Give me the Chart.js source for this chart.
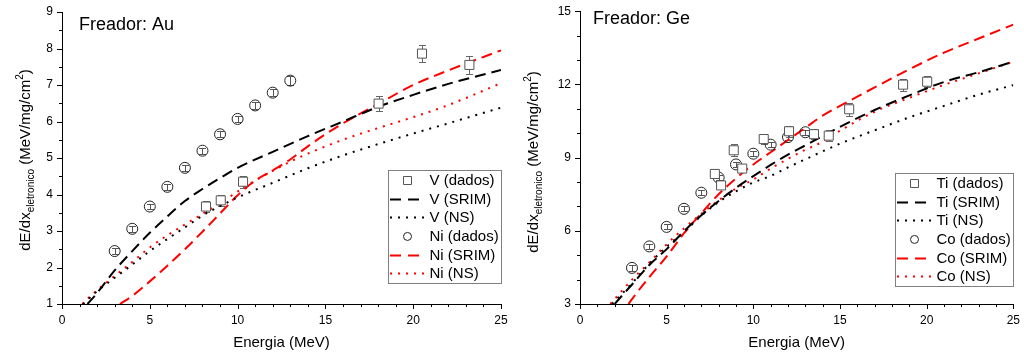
<!DOCTYPE html>
<html>
<head>
<meta charset="utf-8">
<script src="https://cdn.jsdelivr.net/npm/chart.js@4.4.0/dist/chart.umd.min.js"></script>
<style>
  html, body { margin: 0; padding: 0; background: #fff; }
  #wrap { display: flex; width: 1024px; height: 358px; }
  canvas { display: block; }
</style>
</head>
<body>
<div id="wrap">
  <canvas id="au" width="512" height="358"></canvas>
  <canvas id="ge" width="512" height="358"></canvas>
</div>
<script>
// ---------- Freador: Au ----------
const auVEnergia = [8.2, 9.04, 10.31, 18.03, 20.5, 23.2];
const auVDados   = [3.67, 3.84, 4.35, 6.49, 7.86, 7.55];
const auVErro    = [0.16, 0.16, 0.17, 0.2, 0.24, 0.24];

const auNiEnergia = [3, 4, 5, 6, 7, 8, 9, 10, 11, 12, 13];
const auNiDados   = [2.45, 3.06, 3.67, 4.21, 4.73, 5.2, 5.65, 6.07, 6.44, 6.79, 7.12];
const auNiErro    = [0.08, 0.08, 0.08, 0.08, 0.08, 0.08, 0.08, 0.08, 0.1, 0.1, 0.12];

const auVSrimE = [1.45, 2, 3, 4, 5, 6, 7, 8, 9, 10, 12, 14, 16, 18, 20, 22, 25];
const auVSrim  = [1.0, 1.3, 1.92, 2.45, 2.95, 3.4, 3.82, 4.15, 4.45, 4.73, 5.17, 5.6, 6.0, 6.4, 6.73, 7.03, 7.41];

const auVNsE = [1.2, 2, 3, 4, 5, 6, 7, 8, 9, 10, 12, 14, 16, 18, 20, 22, 25];
const auVNs  = [1.0, 1.35, 1.72, 2.08, 2.45, 2.78, 3.1, 3.42, 3.68, 3.92, 4.32, 4.72, 5.07, 5.38, 5.67, 5.95, 6.38];

const auNiSrimE = [3.3, 4, 5, 6, 7, 8, 9, 10, 11, 12, 13, 14, 15, 16, 18, 20, 22, 25];
const auNiSrim  = [1.0, 1.22, 1.62, 2.05, 2.5, 2.98, 3.48, 3.98, 4.38, 4.66, 4.96, 5.32, 5.65, 5.95, 6.48, 7.0, 7.4, 7.95];

const auNiNsE = [1.15, 2, 3, 4, 5, 6, 7, 8, 9, 10, 11, 12, 13, 14, 16, 18, 20, 22, 25];
const auNiNs  = [1.0, 1.38, 1.77, 2.15, 2.55, 2.88, 3.18, 3.47, 3.76, 4.08, 4.38, 4.65, 4.9, 5.12, 5.5, 5.82, 6.12, 6.45, 7.05];

const auYTicks = [1, 2, 3, 4, 5, 6, 7, 8, 9];

// ---------- Freador: Ge ----------
const geTiEnergia = [7.78, 8.14, 8.87, 9.36, 10.6, 12.06, 13.5, 14.35, 15.53, 18.64, 20.03];
const geTiDados   = [8.33, 7.86, 9.3, 8.55, 9.76, 10.08, 9.96, 9.9, 10.98, 11.99, 12.11];
const geTiErro    = [0.18, 0.15, 0.24, 0.15, 0.22, 0.22, 0.2, 0.22, 0.27, 0.25, 0.23];

const geCoEnergia = [3, 4, 5, 6, 7, 8, 9, 10, 11, 12, 13];
const geCoDados   = [4.48, 5.36, 6.16, 6.9, 7.56, 8.18, 8.72, 9.16, 9.53, 9.84, 10.04];
const geCoErro    = [0.12, 0.1, 0.1, 0.1, 0.1, 0.1, 0.1, 0.1, 0.1, 0.1, 0.1];

const geTiSrimE = [2, 3, 4, 5, 6, 7, 8, 9, 10, 11, 12, 13, 14, 15, 17, 19, 21, 23, 25];
const geTiSrim  = [3.0, 3.8, 4.6, 5.25, 5.98, 6.64, 7.22, 7.76, 8.24, 8.7, 9.12, 9.5, 9.88, 10.26, 10.95, 11.55, 12.1, 12.5, 12.93];

const geTiNsE = [1.85, 3, 4, 5, 6, 7, 8, 9, 10, 11, 12, 13, 15, 17, 19, 21, 23, 25];
const geTiNs  = [3.0, 3.85, 4.65, 5.35, 5.95, 6.62, 7.18, 7.62, 7.98, 8.25, 8.6, 8.93, 9.57, 10.12, 10.65, 11.12, 11.58, 11.97];

const geCoSrimE = [2.8, 3, 4, 5, 6, 7, 8, 9, 10, 11, 12, 13, 14, 15, 16, 17, 19, 21, 23, 25];
const geCoSrim  = [3.0, 3.2, 4.1, 4.95, 5.9, 6.72, 7.5, 8.15, 8.72, 9.22, 9.72, 10.22, 10.72, 11.12, 11.5, 11.88, 12.62, 13.3, 13.88, 14.45];

const geCoNsE = [1.75, 2, 3, 4, 5, 6, 7, 8, 9, 10, 11, 12, 13, 14, 15, 17, 19, 21, 23, 25];
const geCoNs  = [3.0, 3.2, 4.0, 4.7, 5.45, 6.1, 6.7, 7.25, 7.73, 8.1, 8.55, 8.95, 9.32, 9.65, 10.1, 10.88, 11.45, 11.98, 12.45, 12.93];

const geYTicks = [3, 6, 9, 12, 15];

const energiaTicks = [0, 5, 10, 15, 20, 25];

// ---------- helpers ----------
const FONT = "'Liberation Sans', Arial, Helvetica, sans-serif";
const RED = '#ff0000';
const DASH = [11, 6];
const DOT = [2, 6];

function pts(xs, ys) { return xs.map((x, i) => ({ x: x, y: ys[i] })); }

function markerSet(label, xs, ys, errs, style, color, radius, fill, errColor) {
  return {
    label: label, data: pts(xs, ys), errors: errs, kind: 'marker',
    showLine: false, pointStyle: style, pointRadius: radius,
    pointBorderColor: color, pointBackgroundColor: fill, pointBorderWidth: 1,
    borderColor: color, backgroundColor: fill, errColor: errColor
  };
}

function curveSet(label, xs, ys, color, dash) {
  return {
    label: label, data: pts(xs, ys), kind: dash === DOT ? 'dot' : 'dash',
    showLine: true, pointRadius: 0, borderColor: color, borderWidth: 2,
    borderDash: dash, cubicInterpolationMode: 'monotone', fill: false
  };
}

// vertical error bars with caps
const errorBars = {
  id: 'errorBars',
  beforeDatasetsDraw(chart) {
    const ctx = chart.ctx, xs = chart.scales.x, ys = chart.scales.y;
    chart.data.datasets.forEach(ds => {
      if (!ds.errors) return;
      ctx.save();
      ctx.strokeStyle = ds.errColor;
      ctx.lineWidth = 1;
      ds.data.forEach((p, j) => {
        const px = Math.round(xs.getPixelForValue(p.x)) + 0.5;
        const y1 = Math.round(ys.getPixelForValue(p.y - ds.errors[j])) + 0.5;
        const y2 = Math.round(ys.getPixelForValue(p.y + ds.errors[j])) + 0.5;
        ctx.beginPath();
        ctx.moveTo(px, y1); ctx.lineTo(px, y2);
        ctx.moveTo(px - 3.5, y1); ctx.lineTo(px + 3.5, y1);
        ctx.moveTo(px - 3.5, y2); ctx.lineTo(px + 3.5, y2);
        ctx.stroke();
      });
      ctx.restore();
    });
  }
};

// outward major and minor tick marks on both axes
const axisTicks = {
  id: 'axisTicks',
  afterDraw(chart, args, o) {
    const ctx = chart.ctx, a = chart.chartArea;
    const xs = chart.scales.x, ys = chart.scales.y;
    ctx.save();
    ctx.strokeStyle = '#000';
    ctx.lineWidth = 1;
    ctx.beginPath();
    const isMajor = (v, step) => Math.abs(v / step - Math.round(v / step)) < 1e-6;
    for (let i = 0; xs.min + i * o.xMinor <= xs.max + 1e-9; i++) {
      const v = xs.min + i * o.xMinor;
      const len = isMajor(v, o.xMajor) ? 5 : 3;
      const px = Math.round(xs.getPixelForValue(v)) + 0.5;
      ctx.moveTo(px, a.bottom); ctx.lineTo(px, a.bottom + len);
    }
    for (let i = 0; ys.min + i * o.yMinor <= ys.max + 1e-9; i++) {
      const v = ys.min + i * o.yMinor;
      const len = isMajor(v - ys.min, o.yMajor) ? 5 : 3;
      const py = Math.round(ys.getPixelForValue(v)) + 0.5;
      ctx.moveTo(a.left, py); ctx.lineTo(a.left - len, py);
    }
    ctx.stroke();
    ctx.restore();
  }
};

// boxed legend in the lower right of the plot area
const boxLegend = {
  id: 'boxLegend',
  afterDraw(chart, args, o) {
    const ctx = chart.ctx, a = chart.chartArea;
    const items = chart.data.datasets;
    ctx.save();
    ctx.font = '15px ' + FONT;
    const textW = Math.max.apply(null, items.map(d => ctx.measureText(d.label).width));
    const w = Math.round(o.textOffset + textW + 2);
    const h = Math.round(items.length * o.rowH + 1);
    const x0 = Math.round(a.right - w);
    const y0 = Math.round(a.bottom - o.bottom - h);
    ctx.fillStyle = '#fff';
    ctx.fillRect(x0, y0, w, h);
    ctx.strokeStyle = '#808080';
    ctx.lineWidth = 1;
    ctx.strokeRect(x0 + 0.5, y0 + 0.5, w, h);
    items.forEach((d, i) => {
      const cy = y0 + 0.5 + o.rowH * (i + 0.5);
      if (d.kind === 'marker') {
        ctx.setLineDash([]);
        ctx.strokeStyle = d.pointBorderColor;
        ctx.lineWidth = 1;
        ctx.beginPath();
        if (d.pointStyle === 'rect') {
          ctx.rect(x0 + 15.5, Math.round(cy) - 3.5, 8, 8);
        } else {
          ctx.arc(x0 + 19.5, cy + 0.5, 4, 0, Math.PI * 2);
        }
        ctx.stroke();
      } else {
        ctx.strokeStyle = d.borderColor;
        ctx.lineWidth = 2;
        ctx.setLineDash(d.kind === 'dot' ? DOT : [11, 7]);
        ctx.beginPath();
        ctx.moveTo(x0 + 2, Math.round(cy) + 0.5);
        ctx.lineTo(x0 + (d.kind === 'dot' ? 40 : 31), Math.round(cy) + 0.5);
        ctx.stroke();
      }
      ctx.setLineDash([]);
      ctx.fillStyle = '#000';
      ctx.textBaseline = 'middle';
      ctx.textAlign = 'left';
      ctx.fillText(d.label, x0 + o.textOffset, cy + 1);
    });
    ctx.restore();
  }
};

// panel caption and rotated y-axis title with sub/superscript
const panelText = {
  id: 'panelText',
  afterDraw(chart, args, o) {
    const ctx = chart.ctx;
    ctx.save();
    ctx.fillStyle = '#000';
    ctx.textBaseline = 'alphabetic';
    ctx.textAlign = 'left';
    ctx.font = '18px ' + FONT;
    ctx.fillText(o.caption, o.capX, o.capY);

    const parts = [
      { t: 'dE/dx', s: 15, dy: 0 },
      { t: 'eletronico', s: 10, dy: 4 },
      { t: ' (MeV/mg/cm', s: 15, dy: 0 },
      { t: '2', s: 10, dy: -7 },
      { t: ')', s: 15, dy: 0 }
    ];
    let total = 0;
    parts.forEach(p => { ctx.font = p.s + 'px ' + FONT; p.w = ctx.measureText(p.t).width; total += p.w; });
    ctx.translate(o.titleX, o.titleY);
    ctx.rotate(-Math.PI / 2);
    let x = -total / 2;
    parts.forEach(p => {
      ctx.font = p.s + 'px ' + FONT;
      ctx.fillText(p.t, x, p.dy);
      x += p.w;
    });
    ctx.restore();
  }
};

function makeChart(id, c) {
  return new Chart(document.getElementById(id), {
    type: 'scatter',
    data: { datasets: c.datasets },
    options: {
      responsive: false,
      animation: false,
      devicePixelRatio: 1,
      layout: { padding: { top: c.padTop, right: c.padRight, left: 0, bottom: 0 } },
      plugins: {
        legend: { display: false },
        tooltip: { enabled: false },
        boxLegend: { textOffset: 41.5, rowH: 18.7, bottom: c.legendBottom },
        axisTicks: { xMajor: 5, xMinor: 1, yMajor: c.yMajor, yMinor: c.yMinor },
        panelText: { caption: c.caption, capX: c.capX, capY: c.capY, titleX: c.titleX, titleY: c.titleY }
      },
      scales: {
        x: {
          type: 'linear',
          min: energiaTicks[0],
          max: energiaTicks[energiaTicks.length - 1],
          afterBuildTicks: s => { s.ticks = energiaTicks.map(v => ({ value: v })); },
          afterFit: s => { s.height = 54; },
          grid: { display: false, drawTicks: true, tickLength: 5 },
          border: { display: true, color: '#000', width: 1 },
          ticks: { font: { family: FONT, size: 12 }, color: '#000', padding: 4, maxRotation: 0, autoSkip: false },
          title: { display: true, text: 'Energia (MeV)', color: '#000', font: { family: FONT, size: 15 }, padding: { top: 0, bottom: 6 } }
        },
        y: {
          type: 'linear',
          min: c.yTicks[0],
          max: c.yTicks[c.yTicks.length - 1],
          afterBuildTicks: s => { s.ticks = c.yTicks.map(v => ({ value: v })); },
          afterFit: s => { s.width = c.yWidth; },
          grid: { display: false, drawTicks: true, tickLength: 5 },
          border: { display: true, color: '#000', width: 1 },
          ticks: { font: { family: FONT, size: 12 }, color: '#000', padding: 4, autoSkip: false }
        }
      }
    },
    plugins: [errorBars, axisTicks, boxLegend, panelText]
  });
}

makeChart('au', {
  caption: 'Freador: Au', capX: 79, capY: 30, titleX: 29.5, titleY: 160,
  padTop: 12, padRight: 11, yWidth: 62, yTicks: auYTicks, yMajor: 1, yMinor: 0.5,
  legendBottom: 21,
  datasets: [
    markerSet('V (dados)', auVEnergia, auVDados, auVErro, 'rect', '#555', 6.4, '#fff', '#666'),
    curveSet('V (SRIM)', auVSrimE, auVSrim, '#000', DASH),
    curveSet('V (NS)', auVNsE, auVNs, '#000', DOT),
    markerSet('Ni (dados)', auNiEnergia, auNiDados, auNiErro, 'circle', '#222', 5.5, 'rgba(0,0,0,0)', '#555'),
    curveSet('Ni (SRIM)', auNiSrimE, auNiSrim, RED, DASH),
    curveSet('Ni (NS)', auNiNsE, auNiNs, RED, DOT)
  ]
});

makeChart('ge', {
  caption: 'Freador: Ge', capX: 81, capY: 24, titleX: 25.5, titleY: 162,
  padTop: 10, padRight: 8, yWidth: 68, yTicks: geYTicks, yMajor: 3, yMinor: 1,
  legendBottom: 18,
  datasets: [
    markerSet('Ti (dados)', geTiEnergia, geTiDados, geTiErro, 'rect', '#555', 6.4, '#fff', '#666'),
    curveSet('Ti (SRIM)', geTiSrimE, geTiSrim, '#000', DASH),
    curveSet('Ti (NS)', geTiNsE, geTiNs, '#000', DOT),
    markerSet('Co (dados)', geCoEnergia, geCoDados, geCoErro, 'circle', '#222', 5.5, 'rgba(0,0,0,0)', '#555'),
    curveSet('Co (SRIM)', geCoSrimE, geCoSrim, RED, DASH),
    curveSet('Co (NS)', geCoNsE, geCoNs, RED, DOT)
  ]
});
</script>
</body>
</html>
